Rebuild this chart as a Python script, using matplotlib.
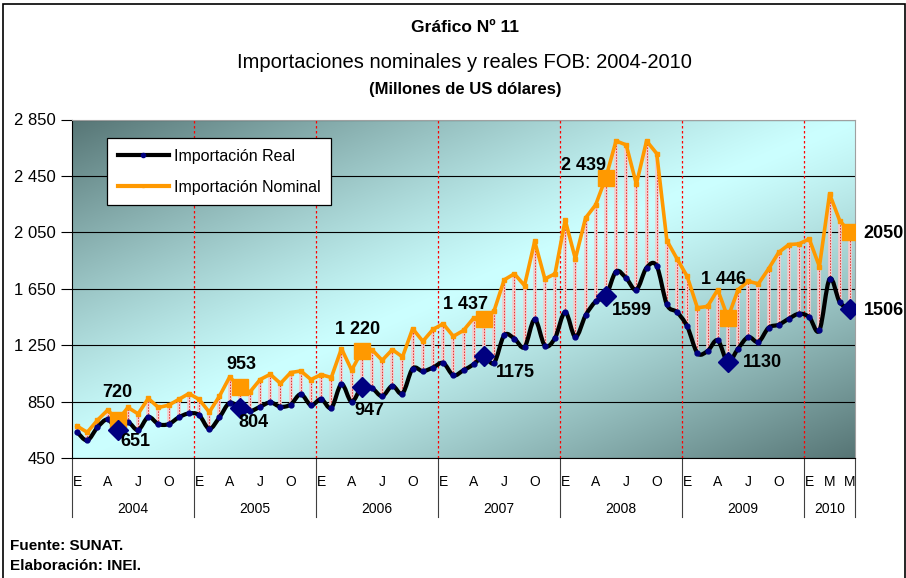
import numpy as np
import matplotlib
matplotlib.use('Agg')
import matplotlib.pyplot as plt
from matplotlib.path import Path
from matplotlib.patches import PathPatch, Rectangle
from matplotlib.lines import Line2D
import matplotlib.transforms as mtransforms

plt.rcParams['font.family'] = ['Liberation Sans', 'DejaVu Sans']

# monthly data, Jan 2004 - May 2010
real = [636, 577, 669, 725, 651, 704, 650, 742, 692, 692, 740, 768,
        756, 659, 740, 843, 804, 784, 815, 846, 815, 831, 904, 826,
        869, 807, 975, 850, 956, 947, 890, 963, 909, 1086, 1067, 1093,
        1125, 1038, 1074, 1116, 1175, 1125, 1321, 1298, 1238, 1434, 1248, 1302,
        1485, 1309, 1462, 1561, 1599, 1773, 1726, 1644, 1800, 1812, 1540, 1485,
        1384, 1196, 1210, 1286, 1130, 1227, 1309, 1274, 1375, 1396, 1439, 1474,
        1450, 1356, 1721, 1556, 1506]
nominal = [678, 634, 720, 791, 720, 810, 765, 874, 810, 826, 867, 909,
           867, 777, 890, 1026, 953, 920, 1008, 1045, 980, 1057, 1069, 1008,
           1043, 1022, 1227, 1074, 1208, 1220, 1144, 1220, 1168, 1368, 1279, 1363,
           1403, 1314, 1356, 1443, 1437, 1493, 1714, 1757, 1674, 1987, 1721, 1757,
           2138, 1863, 2152, 2246, 2439, 2698, 2670, 2392, 2698, 2609, 1992, 1863,
           1738, 1516, 1526, 1644, 1446, 1644, 1704, 1686, 1792, 1909, 1964, 1969,
           2004, 1808, 2322, 2133, 2050]
years = ['2004', '2005', '2006', '2007', '2008', '2009', '2010']
month_letters = ['E', '', '', 'A', '', '', 'J', '', '', 'O', '', '']
month_letters_2010 = ['E', '', 'M', '', 'M']
may_idx = [4, 16, 28, 40, 52, 64, 76]
nom_labels = ['720', '953', '1 220', '1 437', '2 439', '1 446', '2050']
real_labels = ['651', '804', '947', '1175', '1599', '1130', '1506']
y_ticks = [450, 850, 1250, 1650, 2050, 2450, 2850]
y_tick_labels = ['450', '850', '1 250', '1 650', '2 050', '2 450', '2 850']

# label offsets from the marker, in pixels
nom_off = [(0, 28), (2, 23), (-4, 22), (-18, 14), (-22, 12), (-4, 38), (34, -1)]
real_off = [(18, -12), (14, -14), (8, -24), (32, -17), (26, -14), (35, 0), (34, -1)]

x = np.arange(len(real))
real = np.array(real, dtype=float)
nominal = np.array(nominal, dtype=float)

fig = plt.figure(figsize=(9.06, 5.78), dpi=100)
ax = fig.add_axes([72/906, 1-458.3/578, (855-72)/906, (458.3-119.5)/578])
ax.set_xlim(-0.5, len(x)-0.5)
ax.set_ylim(450, 2850)

# gradient background
gx, gy = np.meshgrid(np.linspace(0, 1, 300), np.linspace(0, 1, 150))
t = np.abs((gx + gy) / 2 - 0.5) * 2
t = t ** 1.2
light = np.array([0.80, 1.0, 1.0])
dark = np.array([0.34, 0.46, 0.46])
img = light[None, None, :] + (dark - light)[None, None, :] * t[..., None]
ax.imshow(img, extent=[0, 1, 0, 1], transform=ax.transAxes, aspect='auto',
          origin='upper', zorder=0, interpolation='bilinear')

for yt in y_ticks:
    ax.axhline(yt, color='black', lw=0.8, zorder=1)
for k in range(1, len(years)):
    ax.axvline(12*k - 0.5, color='red', lw=0.9, ls=(0, (2, 2)), zorder=1)

# high-low lines
ax.vlines(x, real, nominal, color='#f6caca', lw=2.6, zorder=2)
ax.vlines(x, real, nominal, color='#e03030', lw=0.7, linestyles=(0, (1.5, 1.5)), zorder=2)

# nominal line
ax.plot(x, nominal, color='#ff9900', lw=2.6, marker='s', ms=2.5, mec='#ff9900', zorder=3)

# real line, smoothed
pts = np.column_stack([x, real])
verts = [pts[0]]
codes = [Path.MOVETO]
for i in range(len(pts)-1):
    p0 = pts[max(i-1, 0)]
    p1 = pts[i]
    p2 = pts[i+1]
    p3 = pts[min(i+2, len(pts)-1)]
    verts += [p1 + (p2-p0)/6, p2 - (p3-p1)/6, p2]
    codes += [Path.CURVE4]*3
ax.add_patch(PathPatch(Path(verts, codes), fill=False, ec='black', lw=3.0,
                       capstyle='round', joinstyle='round', zorder=4))
ax.plot(x, real, ls='none', marker='o', ms=3.5, color='#000080', zorder=5)

# highlighted May points
ax.plot(x[may_idx], nominal[may_idx], ls='none', marker='s', ms=11, color='#ff9900', zorder=6)
ax.plot(x[may_idx], real[may_idx], ls='none', marker='D', ms=10, color='#000080', zorder=6)

lab_kw = dict(fontsize=13, fontweight='bold', zorder=7, ha='center', va='center',
              textcoords='offset pixels', annotation_clip=False)
for j, i in enumerate(may_idx):
    ax.annotate(nom_labels[j], (x[i], nominal[i]), xytext=nom_off[j], **lab_kw)
    ax.annotate(real_labels[j], (x[i], real[i]), xytext=real_off[j], **lab_kw)

# axes styling
for s in ['top', 'right']:
    ax.spines[s].set_color('#a0a0a0')
ax.spines['bottom'].set_color('black')
ax.spines['left'].set_color('black')
ax.set_yticks(y_ticks)
ax.set_yticklabels(y_tick_labels, fontsize=12)
ax.tick_params(axis='y', length=8, width=0.8, pad=4)

labels = []
for y in years[:-1]:
    labels += month_letters
labels += month_letters_2010
ax.set_xticks(x)
ax.set_xticklabels(labels, fontsize=10)
ax.tick_params(axis='x', length=0, pad=12)

trans = mtransforms.blended_transform_factory(ax.transData, ax.transAxes)
bounds = [-0.5 + 12*k for k in range(len(years))] + [len(x) - 0.5]
for k, yr in enumerate(years):
    ax.text((bounds[k] + bounds[k+1]) / 2, -0.15, yr, transform=trans,
            ha='center', va='center', fontsize=10)
for b in bounds:
    ax.plot([b, b], [0, -0.173], transform=trans, color='#404040', lw=0.8, clip_on=False)

leg_handles = [Line2D([], [], color='black', lw=3, marker='o', ms=3, mfc='#000080', mec='#000080'),
               Line2D([], [], color='#ff9900', lw=3, marker='s', ms=2, mfc='#ff9900')]
leg = ax.legend(leg_handles, ['Importación Real', 'Importación Nominal'],
                loc='upper left', bbox_to_anchor=(0.045, 0.944), borderaxespad=0,
                fontsize=11.5, frameon=True, fancybox=False, framealpha=1,
                edgecolor='black', handlelength=3.2, labelspacing=1.0,
                borderpad=0.65, handletextpad=0.3)
leg.get_frame().set_linewidth(0.9)
leg.set_zorder(8)

fig.text(0.513, 1-27/578, 'Gráfico Nº 11', ha='center', va='center', fontsize=12.5, fontweight='bold')
fig.text(0.513, 1-62/578, 'Importaciones nominales y reales FOB: 2004-2010', ha='center',
         va='center', fontsize=14.5)
fig.text(0.513, 1-90/578, '(Millones de US dólares)', ha='center', va='center',
         fontsize=12, fontweight='bold')
fig.text(10/906, 1-546/578, 'Fuente: SUNAT.', ha='left', va='center', fontsize=11, fontweight='bold')
fig.text(10/906, 1-566/578, 'Elaboración: INEI.', ha='left', va='center', fontsize=11, fontweight='bold')

fig.patches.append(Rectangle((3/906, -0.05), 902/906, 1.05 - 4/578, transform=fig.transFigure,
                             fill=False, ec='black', lw=1.2))

fig.savefig('out.png', dpi=100)
